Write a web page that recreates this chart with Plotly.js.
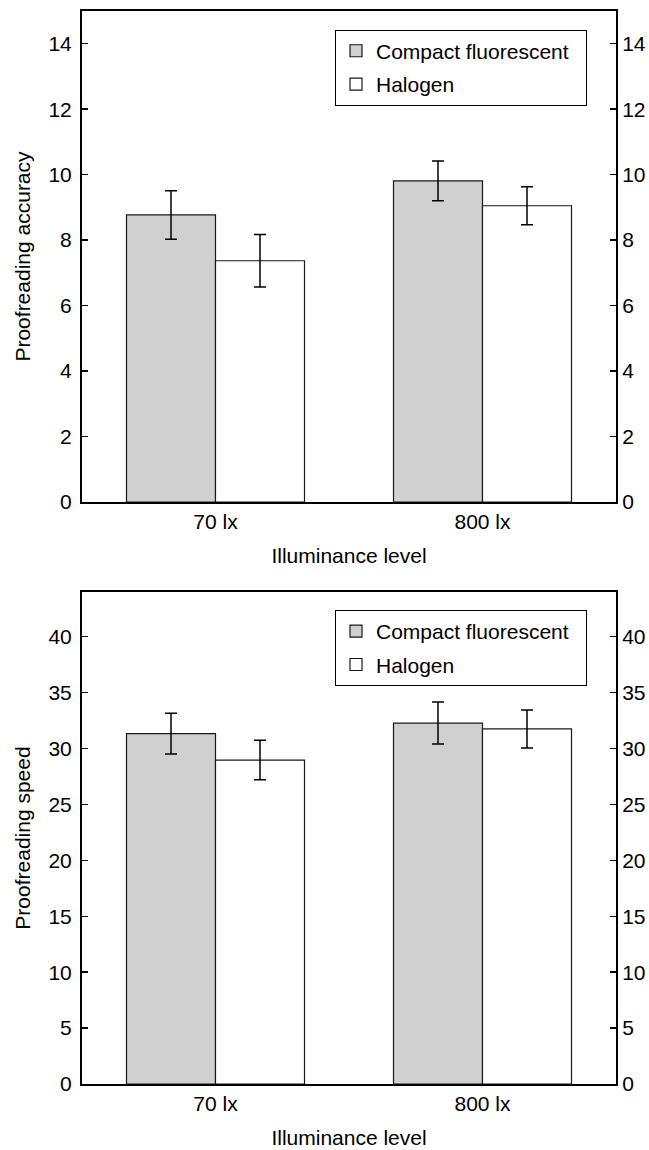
<!DOCTYPE html>
<html>
<head>
<meta charset="utf-8">
<script src="https://cdn.plot.ly/plotly-3.0.1.min.js"></script>
<style>html,body{margin:0;padding:0;background:#fff;}#chart{width:649px;height:1150px;}</style>
</head>
<body>
<div id="chart"></div>
<script>
// Data
var categories = ['70 lx', '800 lx'];
var seriesNames = ['Compact fluorescent', 'Halogen'];
var accuracyCF = [8.77, 9.81];
var accuracyCFErr = [0.74, 0.61];
var accuracyHal = [7.37, 9.05];
var accuracyHalErr = [0.80, 0.58];
var speedCF = [31.34, 32.28];
var speedCFErr = [1.82, 1.88];
var speedHal = [28.97, 31.76];
var speedHalErr = [1.77, 1.70];
var accuracyTicks = [0, 2, 4, 6, 8, 10, 12, 14];
var speedTicks = [0, 5, 10, 15, 20, 25, 30, 35, 40];

var FONT = 'Liberation Sans, Arial, Helvetica, sans-serif';
var fills = ['rgb(208,208,208)', 'rgb(255,255,255)'];
var PAD = '\u00A0\u00A0';

function barTrace(name, y, err, fill, xa, ya, legend, group) {
  return {
    type: 'bar', name: name + PAD, x: categories, y: y,
    xaxis: xa, yaxis: ya, legend: legend, legendgroup: group, showlegend: true,
    marker: {color: fill, line: {color: 'rgb(25,25,25)', width: 1.2}},
    error_y: {type: 'data', array: err, visible: true, color: '#000', thickness: 1.5, width: 6},
    hoverinfo: 'skip'
  };
}
// invisible helper so the right-hand mirror axis is drawn
function ghost(y, xa, ya) {
  return {type: 'scatter', mode: 'markers', x: categories, y: y, xaxis: xa, yaxis: ya,
          marker: {opacity: 0}, showlegend: false, hoverinfo: 'skip'};
}

var data = [
  barTrace(seriesNames[0], accuracyCF, accuracyCFErr, fills[0], 'x', 'y', 'legend', 'a1'),
  barTrace(seriesNames[1], accuracyHal, accuracyHalErr, fills[1], 'x', 'y', 'legend', 'a2'),
  barTrace(seriesNames[0], speedCF, speedCFErr, fills[0], 'x2', 'y2', 'legend2', 'b1'),
  barTrace(seriesNames[1], speedHal, speedHalErr, fills[1], 'x2', 'y2', 'legend2', 'b2'),
  ghost(accuracyCF, 'x', 'y3'),
  ghost(speedCF, 'x2', 'y4')
];

var tickFont = {family: FONT, size: 21, color: '#000'};
var topDomain = [0.5424, 1];
var botDomain = [0, 0.4585];

function xAxis(domain, anchor) {
  return {
    domain: [0, 1], anchor: anchor, type: 'category', range: [-0.5, 1.5],
    showline: true, linewidth: 2, linecolor: '#000', mirror: true,
    ticks: '', showgrid: false, zeroline: false,
    tickfont: tickFont,
    title: {text: 'Illuminance level', font: {family: FONT, size: 21, color: '#000'}, standoff: 16}
  };
}
function yLeft(domain, anchor, range, ticks, title) {
  return {
    domain: domain, anchor: anchor, range: range, tickvals: ticks,
    showline: true, linewidth: 2, linecolor: '#000',
    ticks: 'inside', ticklen: 6, tickwidth: 1.5, tickcolor: '#000',
    showgrid: false, zeroline: false, tickfont: tickFont, ticklabelstandoff: 4,
    title: {text: title, font: {family: FONT, size: 21, color: '#000'}, standoff: 12}
  };
}
function yRight(overlay, anchor, range, ticks) {
  return {
    overlaying: overlay, anchor: anchor, side: 'right', range: range, tickvals: ticks,
    showline: true, linewidth: 2, linecolor: '#000',
    ticks: 'inside', ticklen: 6, tickwidth: 1.5, tickcolor: '#000',
    showgrid: false, zeroline: false, tickfont: tickFont, ticklabelstandoff: 0
  };
}

var legendStyle = {
  xref: 'paper', yref: 'paper', xanchor: 'right', yanchor: 'top',
  bgcolor: '#fff', bordercolor: '#000', borderwidth: 1,
  font: {family: FONT, size: 21, color: '#000'},
  traceorder: 'grouped', tracegroupgap: 3
};

var layout = {
  width: 649, height: 1150,
  margin: {l: 82, r: 33, t: 11, b: 66},
  paper_bgcolor: '#fff', plot_bgcolor: '#fff',
  barmode: 'group', bargap: 0.3333, bargroupgap: 0,
  showlegend: true,
  xaxis: xAxis(topDomain, 'y'),
  yaxis: yLeft(topDomain, 'x', [0, 15], accuracyTicks, 'Proofreading accuracy'),
  yaxis3: yRight('y', 'x', [0, 15], accuracyTicks),
  xaxis2: xAxis(botDomain, 'y2'),
  yaxis2: yLeft(botDomain, 'x2', [0, 44], speedTicks, 'Proofreading speed'),
  yaxis4: yRight('y2', 'x2', [0, 44], speedTicks),
  legend: Object.assign({}, legendStyle, {x: 0.9457, y: 1 - 18.6 / 491.6 * (topDomain[1] - topDomain[0])}),
  legend2: Object.assign({}, legendStyle, {x: 0.9457, y: botDomain[1] - 18 / 492 * (botDomain[1] - botDomain[0])})
};

Plotly.newPlot('chart', data, layout, {displayModeBar: false, staticPlot: true});
</script>
</body>
</html>
